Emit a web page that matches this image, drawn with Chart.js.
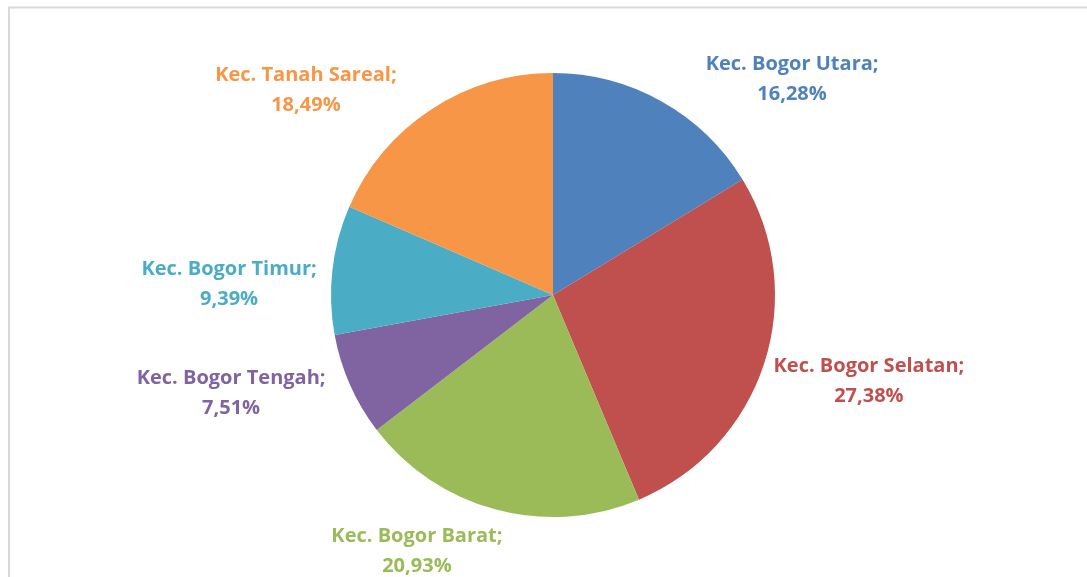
<!DOCTYPE html>
<html>
<head>
<meta charset="utf-8">
<script src="https://cdn.jsdelivr.net/npm/chart.js@4.4.1/dist/chart.umd.min.js"></script>
<style>
    html, body { margin: 0; padding: 0; background: #fff; }
    #wrap { position: relative; width: 1087px; height: 577px; }
</style>
</head>
<body>
<div id="wrap"><canvas id="kec_chart"></canvas></div>
<script>
// kecamatan pie chart

let kec_labels = ['Kec. Bogor Utara', 'Kec. Bogor Selatan', 'Kec. Bogor Barat', 'Kec. Bogor Tengah', 'Kec. Bogor Timur', 'Kec. Tanah Sareal'];

let kec_values = [16.28, 27.38, 20.93, 7.51, 9.39, 18.49];

let kec_colors = ['#4F81BD', '#C0504D', '#9BBB59', '#8064A2', '#4BACC6', '#F79646'];

// label centre offsets from the pie centre, in units of the radius
let kec_labelPos = [[1.077, -0.977], [1.423, 0.383], [-0.613, 1.149], [-1.45, 0.437], [-1.459, -0.054], [-1.113, -0.928]];

const frame_plugin = {
    id: 'frame',
    beforeDraw(chart) {
        const ctx = chart.ctx;
        ctx.save();
        ctx.strokeStyle = '#d9d9d9';
        ctx.lineWidth = 2;
        ctx.strokeRect(9, 7.5, 1200, 700);
        ctx.restore();
    }
};

const labels_plugin = {
    id: 'outLabels',
    afterDatasetsDraw(chart) {
        const ctx = chart.ctx;
        const meta = chart.getDatasetMeta(0);
        ctx.save();
        ctx.font = 'bold 20px "Open Sans"';
        ctx.textAlign = 'center';
        ctx.textBaseline = 'middle';
        meta.data.forEach((arc, i) => {
            const r = arc.outerRadius;
            const x = arc.x + kec_labelPos[i][0] * r;
            const y = arc.y + kec_labelPos[i][1] * r;
            ctx.fillStyle = kec_colors[i];
            ctx.fillText(kec_labels[i] + ';', x, y - 14);
            ctx.fillText(kec_values[i].toFixed(2).replace('.', ',') + '%', x, y + 16);
        });
        ctx.restore();
    }
};

const kec_data = {
    labels: kec_labels,
    datasets: [{
        data: kec_values,
        backgroundColor: kec_colors,
        borderWidth: 0
    }]
};

const kec_config = {
    type: 'pie',
    data: kec_data,
    options: {
        responsive: true,
        maintainAspectRatio: false,
        animation: false,
        layout: {
            padding: { left: 19, right: 0, top: 73, bottom: 60 }
        },
        plugins: {
            legend: { display: false },
            tooltip: { enabled: false }
        }
    },
    plugins: [frame_plugin, labels_plugin]
};

const kec_chart = new Chart(
    document.getElementById('kec_chart'),
    kec_config
);
</script>
</body>
</html>
